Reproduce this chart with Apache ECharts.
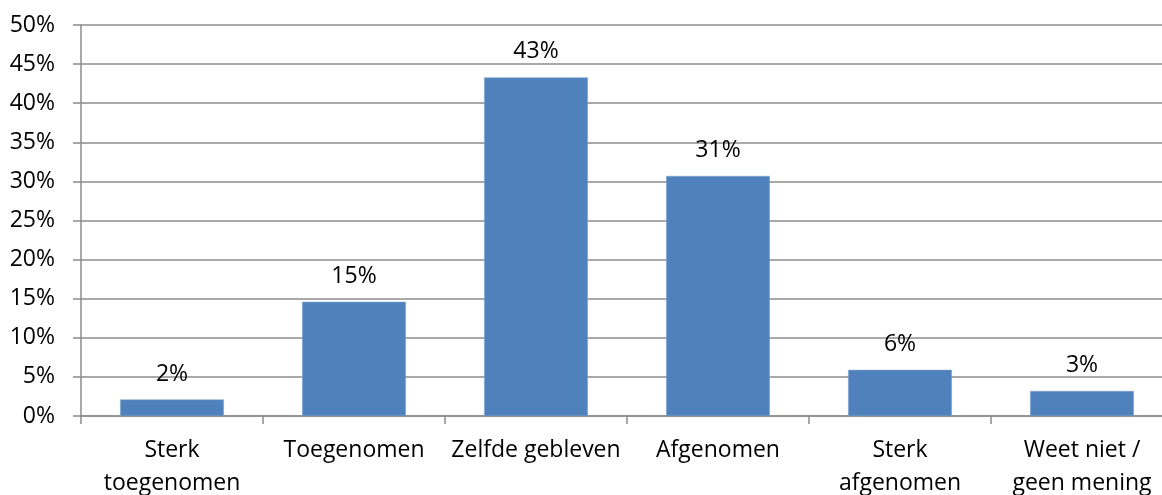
<!DOCTYPE html>
<html>
<head>
  <meta charset="utf-8">
  <title>echarts</title>
  <script src="https://cdn.jsdelivr.net/npm/echarts@6/dist/echarts.min.js"></script>
  <style type="text/css">
    body {
      margin: 0;
      padding: 0;
      background: #fff;
    }
    .bar-box {
      width: 1162px;
      height: 495px;
    }
  </style>
</head>
<body>
<div id="main" class="bar-box"></div>
<script>
  // categorieën en waarden (in procenten)
  var categories = ['Sterk\ntoegenomen', 'Toegenomen', 'Zelfde gebleven', 'Afgenomen', 'Sterk\nafgenomen', 'Weet niet /\ngeen mening'];
  var values = [2.1, 14.6, 43.3, 30.7, 5.9, 3.2];
  var yTicks = [0, 5, 10, 15, 20, 25, 30, 35, 40, 45, 50];

  var gridColor = '#8c8c8c';
  var font = '"Open Sans", "Noto Sans", sans-serif';

  var myChart = echarts.init(document.getElementById('main'));
  var option = {
    animation: false,
    textStyle: {
      fontFamily: font
    },
    grid: {
      top: 25,
      left: 81,
      width: 1092,
      bottom: 79,
      containLabel: false,
      outerBoundsMode: 'none'
    },
    xAxis: {
      type: 'category',
      data: categories,
      axisLine: {
        lineStyle: {
          color: gridColor,
          width: 1.5
        }
      },
      axisTick: {
        show: true,
        length: 8,
        lineStyle: {
          color: gridColor,
          width: 1.5
        }
      },
      axisLabel: {
        color: '#000',
        fontSize: 23,
        fontFamily: font,
        lineHeight: 33,
        margin: 18,
        interval: 0
      }
    },
    yAxis: {
      type: 'value',
      min: yTicks[0],
      max: yTicks[yTicks.length - 1],
      interval: 5,
      axisLine: {
        show: true,
        lineStyle: {
          color: gridColor,
          width: 1.5
        }
      },
      axisTick: {
        show: true,
        length: 8,
        lineStyle: {
          color: gridColor,
          width: 1.5
        }
      },
      axisLabel: {
        color: '#000',
        fontSize: 23,
        fontFamily: font,
        margin: 26,
        formatter: '{value}%'
      },
      splitLine: {
        show: true,
        lineStyle: {
          color: gridColor,
          width: 1.5
        }
      }
    },
    series: [
      {
        type: 'bar',
        data: values,
        barWidth: '57%',
        itemStyle: {
          color: '#4F81BD',
          borderColor: '#7fa3d0',
          borderWidth: 0.5
        },
        label: {
          show: true,
          position: 'top',
          distance: 14,
          color: '#000',
          fontSize: 23,
          fontFamily: font,
          formatter: function (p) {
            return Math.round(p.value) + '%';
          }
        }
      }
    ]
  };
  myChart.setOption(option);
</script>
</body>
</html>
